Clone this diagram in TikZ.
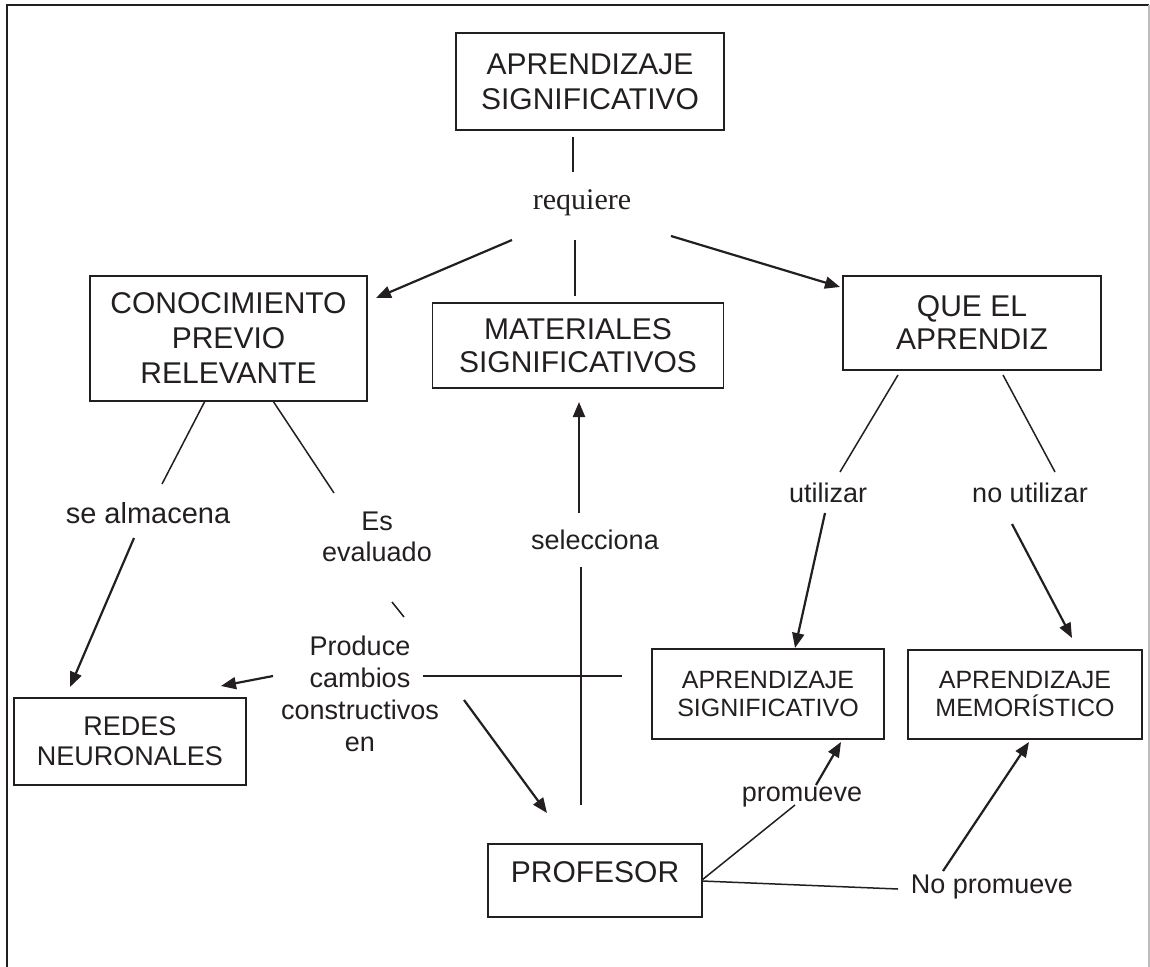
\documentclass[tikz,border=0pt]{standalone}
\usepackage{fontspec}
\setmainfont{Liberation Sans}
\newfontfamily\timesfont{Liberation Serif}
\usetikzlibrary{arrows.meta,calc}
\definecolor{ink}{RGB}{35,31,32}
\tikzset{
  concept/.style={draw=ink, line width=1.6pt, align=center, inner sep=0pt, text=ink, font=\fontsize{30}{35}\selectfont},
  smallconcept/.style={concept, font=\fontsize{25}{28}\selectfont},
  linkword/.style={inner sep=0pt, align=center, text=ink, font=\fontsize{27}{31}\selectfont},
  link/.style={draw=ink, line width=1.5pt},
  linkarrow/.style={draw=ink, line width=2.2pt, -{Triangle[length=15pt,width=12pt]}},
}

\begin{document}
\begin{tikzpicture}[x=1pt,y=1pt,yscale=-1,xscale=1]
\useasboundingbox (0,0) rectangle (1150,966);

%Frame
\draw[draw=ink, line width=1.5pt] (7,970) -- (7,5) -- (1149,5);
\draw[draw=ink!30, line width=1.2pt] (1149,5) -- (1149,970);

%Shape: Rectangle
\node[concept, minimum width=268pt, minimum height=97pt] (aprsig) at (590,81.5) {APRENDIZAJE\\SIGNIFICATIVO};
%Shape: Rectangle
\node[concept, minimum width=277pt, minimum height=125pt] (cono) at (228.5,338.5) {CONOCIMIENTO\\PREVIO\\RELEVANTE};
%Shape: Rectangle
\node[concept, font=\fontsize{30}{33}\selectfont, minimum width=291pt, minimum height=85pt] (mat) at (578,345.5) {MATERIALES\\SIGNIFICATIVOS};
%Shape: Rectangle
\node[concept, font=\fontsize{30}{33}\selectfont, minimum width=258pt, minimum height=94pt] (que) at (972,323) {QUE EL\\APRENDIZ};
%Shape: Rectangle
\node[concept, font=\fontsize{27}{30}\selectfont, minimum width=232pt, minimum height=87pt] (redes) at (130,741.5) {REDES\\NEURONALES};
%Shape: Rectangle
\node[smallconcept, minimum width=232pt, minimum height=90pt] (asig) at (768,694) {APRENDIZAJE\\SIGNIFICATIVO};
%Shape: Rectangle
\node[smallconcept, minimum width=234pt, minimum height=89pt] (amem) at (1025,694.5) {APRENDIZAJE\\MEMORÍSTICO};
%Shape: Rectangle
\node[concept, text depth=17pt, minimum width=214pt, minimum height=73pt] (prof) at (595,880.5) {PROFESOR};

%Text Node
\node[linkword, font=\timesfont\fontsize{30}{34}\selectfont] (req) at (582,203) {requiere};
%Text Node
\node[linkword, font=\fontsize{29}{33}\selectfont] (alm) at (148,513) {se almacena};
%Text Node
\node[linkword] (eval) at (377,537) {Es\\evaluado};
%Text Node
\node[linkword] (sel) at (595,540) {selecciona};
%Text Node
\node[linkword, font=\fontsize{27}{32}\selectfont] (prod) at (360,694) {Produce\\cambios\\constructivos\\en};
%Text Node
\node[linkword] (util) at (828,493) {utilizar};
%Text Node
\node[linkword] (noutil) at (1030,493) {no utilizar};
%Text Node
\node[linkword] (prom) at (802,797) {promueve};
%Text Node
\node[linkword] (noprom) at (992,887) {No promueve};

%Straight Lines
\draw[link] ($(aprsig)+(-17,55.5)$) -- ($(req)+(-9,-31)$);
\draw[linkarrow] ($(req)+(-70,37)$) -- ($(cono)+(147.5,-40.5)$);
\draw[link] ($(req)+(-7,37)$) -- ($(mat)+(-3,-49.5)$);
\draw[linkarrow] ($(req)+(89,33)$) -- ($(que)+(-132,-36)$);
%Straight Lines
\draw[link] ($(cono)+(-23.5,62.5)$) -- ($(alm)+(14,-29)$);
\draw[link] ($(cono)+(44.5,62.5)$) -- ($(eval)+(-43,-44)$);
\draw[linkarrow] ($(alm)+(-14,25)$) -- ($(redes)+(-60,-54.5)$);
\draw[link] ($(eval)+(15,65)$) -- ($(prod)+(44,-77)$);
%Straight Lines
\draw[linkarrow] ($(prod)+(-87,-18)$) -- ($(redes)+(91,-55.5)$);
\draw[link] ($(prod)+(63,-18)$) -- ($(asig)+(-146,-18)$);
\draw[linkarrow] ($(prod)+(104,6)$) -- ($(prof)+(-48,-67.5)$);
%Straight Lines
\draw[link] ($(prof)+(-14,-75.5)$) -- ($(sel)+(-14,27)$);
\draw[linkarrow] ($(sel)+(-16,-27)$) -- ($(mat)+(1,56.5)$);
%Straight Lines
\draw[link] ($(que)+(-74,52)$) -- ($(util)+(12,-21)$);
\draw[link] ($(que)+(31,52)$) -- ($(noutil)+(25,-21)$);
\draw[linkarrow] ($(util)+(-3,20)$) -- ($(asig)+(27,-46)$);
\draw[linkarrow] ($(noutil)+(-18,31)$) -- ($(amem)+(47,-56.5)$);
%Straight Lines
\draw[link] ($(prof)+(107,-0.5)$) -- ($(prom)+(-7,8)$);
\draw[linkarrow] ($(prom)+(14,-12)$) -- ($(asig)+(73,48)$);
\draw[link] ($(prof)+(107,0.5)$) -- ($(noprom)+(-94,2)$);
\draw[linkarrow] ($(noprom)+(-49,-16)$) -- ($(amem)+(4,47.5)$);

\end{tikzpicture}
\end{document}
